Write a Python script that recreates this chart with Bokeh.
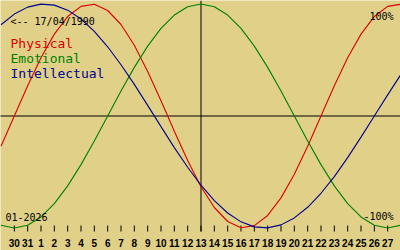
from bokeh.plotting import figure
from bokeh.models import Range1d, Label, ColumnDataSource
from bokeh.embed import file_html
from bokeh.resources import INLINE
from bokeh.core.properties import value

# Day offsets relative to the selected date (13 Jan 2026)
offsets = list(range(-15, 16))
physical = [-0.270, 0.000, 0.270, 0.520, 0.731, 0.888, 0.979, 0.998, 0.942, 0.817,
            0.631, 0.398, 0.136, -0.136, -0.398, -0.631, -0.817, -0.942, -0.998, -0.979,
            -0.888, -0.731, -0.520, -0.270, 0.000, 0.270, 0.520, 0.731, 0.888, 0.979, 0.998]
emotional = [-0.975, -1.000, -0.975, -0.901, -0.782, -0.624, -0.434, -0.223, 0.000, 0.223,
             0.434, 0.624, 0.782, 0.901, 0.975, 1.000, 0.975, 0.901, 0.782, 0.624,
             0.434, 0.223, 0.000, -0.223, -0.434, -0.624, -0.782, -0.901, -0.975, -1.000, -0.975]
intellectual = [0.815, 0.910, 0.972, 0.999, 0.990, 0.945, 0.866, 0.756, 0.618, 0.458,
                0.282, 0.095, -0.095, -0.282, -0.458, -0.618, -0.756, -0.866, -0.945, -0.990,
                -0.999, -0.972, -0.910, -0.815, -0.690, -0.541, -0.372, -0.189, 0.000, 0.189, 0.372]

tick_offsets = list(range(-14, 15))
tick_labels = ["30", "31", "1", "2", "3", "4", "5", "6", "7", "8", "9", "10", "11", "12",
               "13", "14", "15", "16", "17", "18", "19", "20", "21", "22", "23", "24",
               "25", "26", "27"]

birth_text = "<-- 17/04/1990"
month_text = "01-2026"
series_names = ["Physical", "Emotional", "Intellectual"]
series_colors = ["#dc0000", "#008000", "#000090"]

W, H = 400, 250
BG = "#e0d088"
CY, AMP = 115.5, 112.0  # pixel centre and amplitude
PX_PER_DAY = W / 30.0
XSHIFT = 0.5 / PX_PER_DAY


def pix_to_val(py):
    return (CY - py) / AMP


p = figure(width=W, height=H, output_backend="svg", toolbar_location=None,
           x_range=Range1d(-15 - XSHIFT, 15 - XSHIFT),
           y_range=Range1d(pix_to_val(H), pix_to_val(0)),
           min_border=0, background_fill_color=BG, border_fill_color=BG)
p.xaxis.visible = False
p.yaxis.visible = False
p.grid.visible = False
p.outline_line_color = None

# axes lines
p.segment(x0=[-16], y0=[0], x1=[16], y1=[0], line_color="black", line_width=1)
p.segment(x0=[0], y0=[pix_to_val(0)], x1=[0], y1=[pix_to_val(231)], line_color="black", line_width=1)

# ticks
p.segment(x0=tick_offsets, y0=[pix_to_val(225)] * len(tick_offsets),
          x1=tick_offsets, y1=[pix_to_val(231)] * len(tick_offsets),
          line_color="black", line_width=1)
src = ColumnDataSource(dict(x=tick_offsets, y=[pix_to_val(242)] * len(tick_offsets), t=tick_labels))
p.text(x="x", y="y", text="t", source=src, text_align="center", text_baseline="alphabetic",
       text_font=value("Liberation Sans"), text_font_size="10px", text_font_style="bold",
       text_color="black")

# curves
for vals, col in zip([physical, emotional, intellectual], series_colors):
    p.line(offsets, vals, line_color=col, line_width=1.1)

mono = "DejaVu Sans Mono"
p.add_layout(Label(x=10, y=H - 21, x_units="screen", y_units="screen", text=birth_text,
                   text_font=mono, text_font_size="10px", text_color="black",
                   text_baseline="alphabetic"))
for i, (name, col) in enumerate(zip(series_names, series_colors)):
    p.add_layout(Label(x=10, y=H - (43 + 15 * i), x_units="screen", y_units="screen", text=name,
                       text_font=mono, text_font_size="13px", text_color=col,
                       text_baseline="alphabetic"))
p.add_layout(Label(x=393, y=H - 16, x_units="screen", y_units="screen", text="100%",
                   text_font=mono, text_font_size="10px", text_color="black",
                   text_align="right", text_baseline="alphabetic"))
p.add_layout(Label(x=393, y=H - 216, x_units="screen", y_units="screen", text="-100%",
                   text_font=mono, text_font_size="10px", text_color="black",
                   text_align="right", text_baseline="alphabetic"))
p.add_layout(Label(x=5, y=H - 216, x_units="screen", y_units="screen", text=month_text,
                   text_font=mono, text_font_size="10px", text_color="black",
                   text_baseline="alphabetic"))

open("out.html", "w").write(file_html(p, INLINE))
